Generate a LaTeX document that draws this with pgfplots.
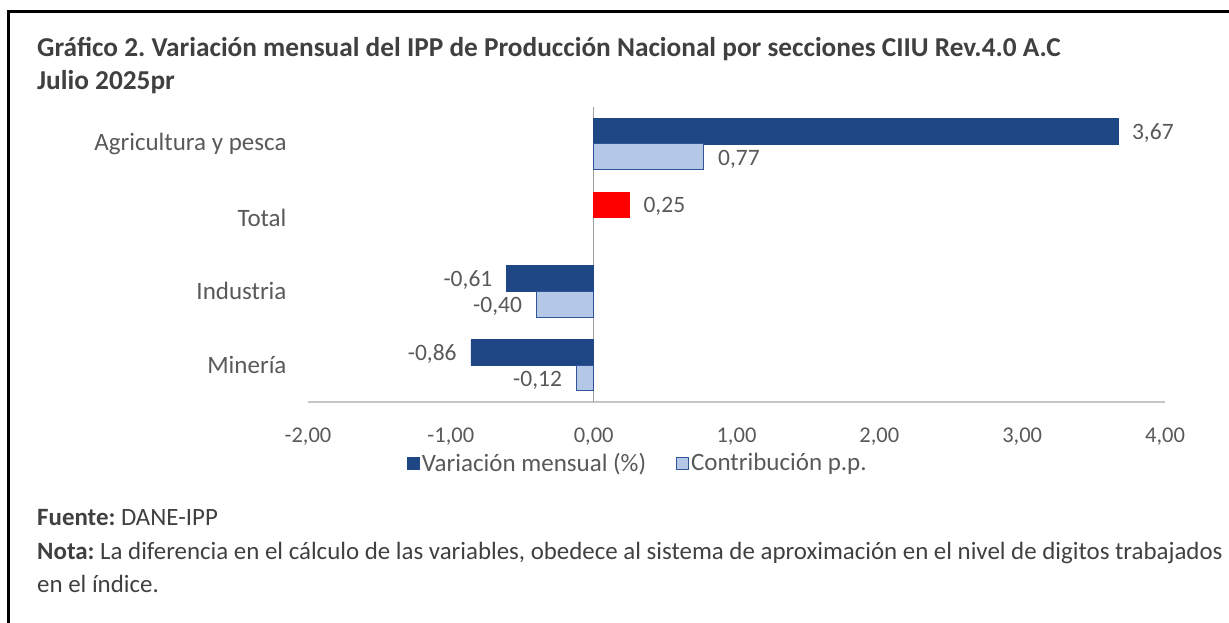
\documentclass[border=0pt]{standalone}
\usepackage{pgfplots}
\pgfplotsset{compat=1.18}
\usepackage{fontspec}
\setmainfont{Carlito}
\definecolor{navy}{RGB}{31,70,133}
\definecolor{lightb}{RGB}{180,199,231}
\definecolor{edgeb}{RGB}{47,85,151}
\definecolor{txt}{RGB}{64,64,64}
\definecolor{tickc}{RGB}{89,89,89}
\frenchspacing
\begin{document}
\begin{tikzpicture}
\path[use as bounding box] (0,0) rectangle (1229pt,-623pt);
\draw[line width=3pt, black] (8pt,-623pt) -- (8pt,-12pt) -- (1229pt,-12pt);
\node[anchor=base west, font=\fontsize{27.3}{31}\selectfont\bfseries, text=txt, inner sep=0pt] at (37pt,-57pt) {Gráfico 2. Variación mensual del IPP de Producción Nacional por secciones CIIU Rev.4.0 A.C};
\node[anchor=base west, font=\fontsize{27.3}{31}\selectfont\bfseries, text=txt, inner sep=0pt] at (37pt,-90pt) {Julio 2025pr};
\begin{axis}[at={(308pt,-402pt)}, anchor=south west, scale only axis,
  width=857pt, height=295pt,
  xmin=-2, xmax=4, ymin=-0.5, ymax=3.5,
  xtick={-2,-1,0,1,2,3,4}, ytick={0,1,2,3},
  yticklabels={Minería,Industria,Total,Agricultura y pesca},
  axis line style={draw=none}, major tick length=0pt,
  /pgf/number format/.cd, fixed, fixed zerofill, precision=2, use comma, assume math mode=true,
  /pgfplots/.cd,
  xticklabel style={font=\fontsize{22.5}{26}\selectfont, text=tickc, yshift=-22pt},
  yticklabel style={font=\fontsize{25}{29}\selectfont, text=tickc, xshift=-18pt},
  point meta=x,
  every node near coord/.append style={font=\fontsize{23.5}{27}\selectfont, text=tickc, inner xsep=14pt, inner ysep=0pt},
  legend style={at={(0.385,-0.207)}, anchor=center, draw=none, legend columns=2,
    font=\fontsize{25}{29}\selectfont, text=tickc, nodes={inner xsep=2pt},
    /tikz/every even column/.append style={column sep=28pt}},
  legend image code/.code={\draw[#1,line width=0.8pt] (0pt,-6pt) rectangle (12pt,6pt);},
]
\draw[color=gray!45, line width=1.8pt] (axis cs:-2,-0.5) -- (axis cs:4,-0.5);
\draw[color=gray!75, line width=1pt] (axis cs:0,-0.5) -- (axis cs:0,3.5);
% Variación mensual
\addplot[xbar, bar width=0.35, bar shift=0.175, fill=navy, draw=navy,
  nodes near coords, nodes near coords style={anchor=west, yshift=11pt}] coordinates {(3.67,3)};
\addlegendentry{Variación mensual (\%)}
% Contribución
\addplot[xbar, bar width=0.35, bar shift=-0.175, fill=lightb, draw=edgeb, line width=1pt,
  nodes near coords, nodes near coords style={anchor=west, yshift=-15pt}] coordinates {(0.77,3)};
\addlegendentry{Contribución p.p.}
\addplot[xbar, bar width=0.35, bar shift=0.175, fill=navy, draw=navy, forget plot,
  nodes near coords, nodes near coords style={anchor=east, yshift=11pt}] coordinates {(-0.61,1) (-0.86,0)};
\addplot[xbar, bar width=0.35, bar shift=-0.175, fill=lightb, draw=edgeb, line width=1pt, forget plot,
  nodes near coords, nodes near coords style={anchor=east, yshift=-15pt}] coordinates {(-0.40,1) (-0.12,0)};
% Total
\addplot[xbar, bar width=0.35, bar shift=0.175, fill=red, draw=red, forget plot,
  nodes near coords, nodes near coords style={anchor=west, yshift=11pt}] coordinates {(0.25,2)};
\end{axis}
\node[anchor=base west, font=\fontsize{24.9}{29}\selectfont, text=txt, inner sep=0pt] at (37pt,-525pt) {\textbf{Fuente:} DANE-IPP};
\node[anchor=base west, font=\fontsize{24.9}{29}\selectfont, text=txt, inner sep=0pt] at (37pt,-559pt) {\textbf{Nota:} La diferencia en el cálculo de las variables, obedece al sistema de aproximación en el nivel de digitos trabajados};
\node[anchor=base west, font=\fontsize{24.9}{29}\selectfont, text=txt, inner sep=0pt] at (37pt,-592pt) {en el índice.};
\end{tikzpicture}
\end{document}
